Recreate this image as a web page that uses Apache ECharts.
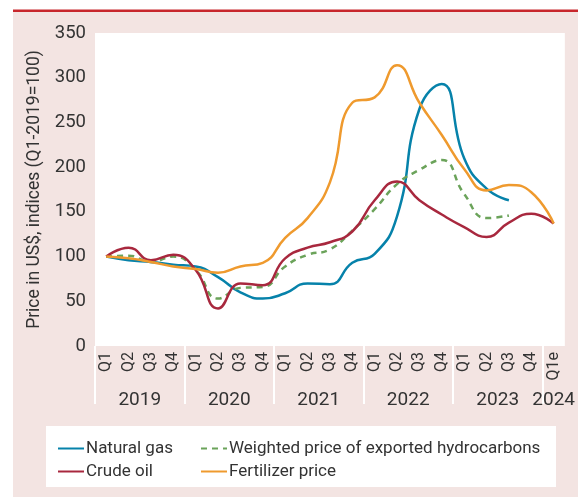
<!DOCTYPE html>
<html>
<head>
<meta charset="utf-8">
<script src="https://cdn.jsdelivr.net/npm/echarts@6/dist/echarts.min.js"></script>
<style>
  html, body { margin: 0; padding: 0; background: #fff; }
  #chart { width: 578px; height: 497px; }
</style>
</head>
<body>
<div id="chart"></div>
<script>
// quarters, 2019 Q1 -> 2024 Q1 (estimate)
const quarters = ['Q1','Q2','Q3','Q4','Q1','Q2','Q3','Q4','Q1','Q2','Q3','Q4',
                  'Q1','Q2','Q3','Q4','Q1','Q2','Q3','Q4','Q1e'];
const years = ['2019','2020','2021','2022','2023','2024'];
const quartersPerYear = [4, 4, 4, 4, 4, 1];

// indices, Q1-2019 = 100
const naturalGas = [100, 96, 94, 91, 89, 77, 60, 53, 59, 70, 69, 93, 103, 145, 265, 293, 210, 176, 163, null, null];
const crudeOil   = [100, 110, 96, 102, 85, 42, 70, 68, 98, 110, 116, 128, 163, 184, 163, 147, 133, 122, 138, 148, 137];
const weighted   = [100, 101, 94, 100, 85, 53, 65, 66, 89, 102, 108, 129, 153, 181, 197, 208, 170, 143, 146, null, null];
const fertilizer = [100, 98, 94, 89, 86, 82, 89, 93, 121, 143, 183, 272, 278, 314, 272, 236, 198, 174, 180, 172, 137];

// year separators and year label positions on a 0..21 scale
let bounds = [0];
let yearPos = [];
quartersPerYear.forEach((n, i) => {
    let start = bounds[i];
    bounds.push(start + n);
    yearPos.push(start + n / 2);
});
const yearSeparators = bounds.slice(0, years.length);

const FONT = "Roboto, 'DejaVu Sans Condensed', sans-serif";
const TXT = '#333';

const chart = echarts.init(document.getElementById('chart'), null, { renderer: 'canvas' });

function lineSeries(name, data, color, dashed) {
    return {
        name: name,
        type: 'line',
        data: data,
        xAxisIndex: 0,
        smooth: 0.5,
        symbol: 'none',
        connectNulls: false,
        lineStyle: { color: color, width: 2.5, type: dashed ? [6, 5] : 'solid' },
        itemStyle: { color: color }
    };
}

const legendBase = {
    orient: 'vertical', top: 435, itemGap: 6,
    itemWidth: 26, itemHeight: 12,
    itemStyle: { opacity: 0 },
    textStyle: { fontSize: 17, color: TXT, fontFamily: FONT, padding: [0, 0, 0, -3] }
};

chart.setOption({
    animation: false,
    textStyle: { fontFamily: FONT },
    graphic: [
        { type: 'rect', z: -10, shape: { x: 13, y: 12, width: 565, height: 485 }, style: { fill: '#f3e4e2' } },
        { type: 'rect', z: -9, shape: { x: 13, y: 9.5, width: 565, height: 2.5 }, style: { fill: '#c8262c' } },
        { type: 'rect', z: -5, shape: { x: 46, y: 426, width: 510, height: 61 }, style: { fill: '#fff' } }
    ],
    grid: {
        left: 95, right: 7, top: 33, bottom: 151,
        show: true, backgroundColor: '#fff', borderWidth: 0
    },
    legend: [
        Object.assign({ data: ['Natural gas', 'Crude oil'], left: 52 }, legendBase),
        Object.assign({ data: ['Weighted price of exported hydrocarbons', 'Fertilizer price'], left: 195 }, legendBase)
    ],
    xAxis: [
        {
            type: 'category',
            data: quarters,
            boundaryGap: true,
            axisLine: { show: false },
            axisTick: { show: false },
            axisLabel: { rotate: 90, margin: 6, fontSize: 16, color: TXT, fontFamily: FONT, interval: 0 }
        },
        {
            type: 'value',
            position: 'bottom',
            min: 0, max: 21,
            axisLine: { show: false },
            splitLine: { show: false },
            axisTick: {
                show: true, customValues: yearSeparators, length: 58,
                lineStyle: { color: '#fff', width: 2 }
            },
            axisLabel: {
                customValues: yearPos, margin: 45, fontSize: 19, color: TXT, fontFamily: FONT,
                formatter: v => years[yearPos.indexOf(v)] || ''
            }
        }
    ],
    yAxis: {
        type: 'value',
        min: 0, max: 350, interval: 50,
        axisLine: { show: false },
        axisTick: { show: false },
        splitLine: { show: false },
        axisLabel: { margin: 9, fontSize: 18.5, color: TXT, fontFamily: FONT },
        name: 'Price in US$, indices (Q1-2019=100)',
        nameLocation: 'middle',
        nameGap: 46,
        nameTextStyle: { fontSize: 17.5, color: TXT, fontFamily: FONT }
    },
    series: [
        lineSeries('Natural gas', naturalGas, '#0682aa', false),
        lineSeries('Weighted price of exported hydrocarbons', weighted, '#6ba35a', true),
        lineSeries('Crude oil', crudeOil, '#a8283e', false),
        lineSeries('Fertilizer price', fertilizer, '#ef9a2e', false)
    ]
});
</script>
</body>
</html>
